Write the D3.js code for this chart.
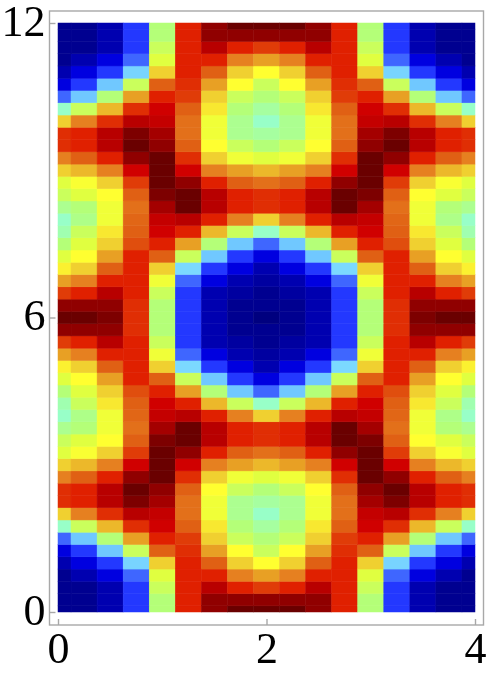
<!DOCTYPE html>
<html>
<head>
<meta charset="utf-8">
<script src="https://cdn.jsdelivr.net/npm/d3@7"></script>
<style>
  html, body { margin: 0; padding: 0; background: #fff; }
  svg { display: block; filter: blur(0.4px); }
  .axis text { font-family: "Liberation Serif", serif; font-size: 44px; fill: #000; }
  .axis line { stroke: #a8a8a8; stroke-width: 1.4; }
</style>
</head>
<body>
<div id="chart"></div>
<script>
// sample positions of the grid
const xValues = d3.range(0, 4.01, 0.25);
const yValues = d3.range(0, 12.01, 0.25);
const xTicks = [0, 2, 4];
const yTicks = [0, 6, 12];

// colour levels, dark blue up to dark red
const palette = [
  "#00006e", "#000090", "#0000b0", "#0000e0", "#2338ff", "#3f66ff",
  "#70c8ff", "#80e0ff", "#98ffc8", "#b4ff78", "#e0ff40", "#ffff30",
  "#f0d030", "#e8a024", "#e68020", "#e06014", "#e03c08", "#e02000",
  "#d00000", "#b80000", "#900000", "#6a0000"
];

// left half of the plot (x 0..2), rows from y=0 up to y=6.
// the picture mirrors around x=2 and y=6
const quarter = [
  [1, 1, 2, 4, 9, 17, 20, 21, 21],
  [1, 1, 2, 4, 9, 17, 20, 20, 20],
  [1, 1, 2, 4, 9.5, 17, 19, 17, 16],
  [1, 2, 3, 5, 10, 17, 17, 14, 13],
  [2, 3, 4, 6.5, 12, 17, 15, 12, 11],
  [3, 4, 6, 9.5, 15, 16.5, 13, 11, 9.5],
  [5, 6, 9, 13, 17, 16, 12, 9.5, 9],
  [8, 9.5, 12.5, 16.5, 18, 15, 11.5, 9, 8.5],
  [12, 14, 16.5, 19, 18.5, 14.5, 10.5, 8.7, 8],
  [16.5, 17, 19, 20.5, 19.5, 14.5, 10.5, 8.7, 8.5],
  [16.5, 17, 19, 21, 20, 15, 11, 9.5, 9],
  [14, 15, 17, 20, 21, 16.5, 12, 10.5, 10],
  [12, 12.5, 14, 18, 21, 18, 14, 13, 12.5],
  [10, 10.8, 12, 16, 21, 20, 17, 15, 14.5],
  [9.5, 10, 11, 15, 20.5, 21, 19, 17, 16.5],
  [8.7, 9, 10.5, 14.5, 19.5, 21, 19, 17, 16.5],
  [8, 8.8, 10.5, 14.8, 18.5, 19, 17, 14, 12],
  [8.3, 9.5, 11.5, 15, 18, 17, 12.5, 9.5, 8],
  [9, 10, 12, 15.5, 17, 13, 9, 6, 5],
  [10, 11, 13, 17, 15, 9.5, 6, 4, 3],
  [11.3, 12, 15, 17, 12, 6.7, 4, 3, 2],
  [13, 14, 17, 17, 10.5, 5, 3, 2, 1.5],
  [16, 17, 19, 17, 9.5, 4, 2, 1.5, 1],
  [20, 20, 20, 16.5, 9, 4, 2, 1, 1],
  [21, 21, 20.5, 16.5, 9, 4, 2, 1, 0.5]
];

const width = 487;
const height = 675;
const frame = { left: 49.5, right: 483.5, top: 11, bottom: 625 };

const x = d3.scaleLinear().domain([0, 4]).range([58, 475]);
const y = d3.scaleLinear().domain([0, 12]).range([612, 23]);
const color = d3.scaleLinear().domain(d3.range(palette.length)).range(palette);

const svg = d3.select("#chart").append("svg")
  .attr("width", width)
  .attr("height", height);

// flatten the mirrored grid into cells
const cells = [];
yValues.forEach((yv, r) => {
  const row = quarter[r <= 24 ? r : 48 - r];
  xValues.forEach((xv, c) => {
    cells.push({ xv, yv, v: row[c <= 8 ? c : 16 - c] });
  });
});

const half = 0.125;
svg.append("g")
  .selectAll("rect")
  .data(cells)
  .join("rect")
  .attr("x", d => x(Math.max(0, d.xv - half)))
  .attr("y", d => y(Math.min(12, d.yv + half)))
  .attr("width", d => x(Math.min(4, d.xv + half)) - x(Math.max(0, d.xv - half)))
  .attr("height", d => y(Math.max(0, d.yv - half)) - y(Math.min(12, d.yv + half)))
  .attr("fill", d => color(d.v))
  .attr("stroke", d => color(d.v))
  .attr("stroke-width", 0.5);

// frame
svg.append("rect")
  .attr("x", frame.left)
  .attr("y", frame.top)
  .attr("width", frame.right - frame.left)
  .attr("height", frame.bottom - frame.top)
  .attr("fill", "none")
  .attr("stroke", "#a8a8a8")
  .attr("stroke-width", 1.4);

// axes, ticks point inwards from the frame
const xAxis = d3.axisBottom(x).tickValues(xTicks).tickSize(-6).tickFormat(d3.format("d"));
const yAxis = d3.axisLeft(y).tickValues(yTicks).tickSize(-6).tickPadding(4).tickFormat(d3.format("d"));

svg.append("g").attr("class", "axis").attr("transform", `translate(0,${frame.bottom})`).call(xAxis)
  .call(g => g.select(".domain").remove())
  .call(g => g.selectAll("text").attr("y", 38).attr("dy", 0));
svg.append("g").attr("class", "axis").attr("transform", `translate(${frame.left},0)`).call(yAxis)
  .call(g => g.select(".domain").remove())
  .call(g => g.selectAll("text").attr("dy", 12));
</script>
</body>
</html>
